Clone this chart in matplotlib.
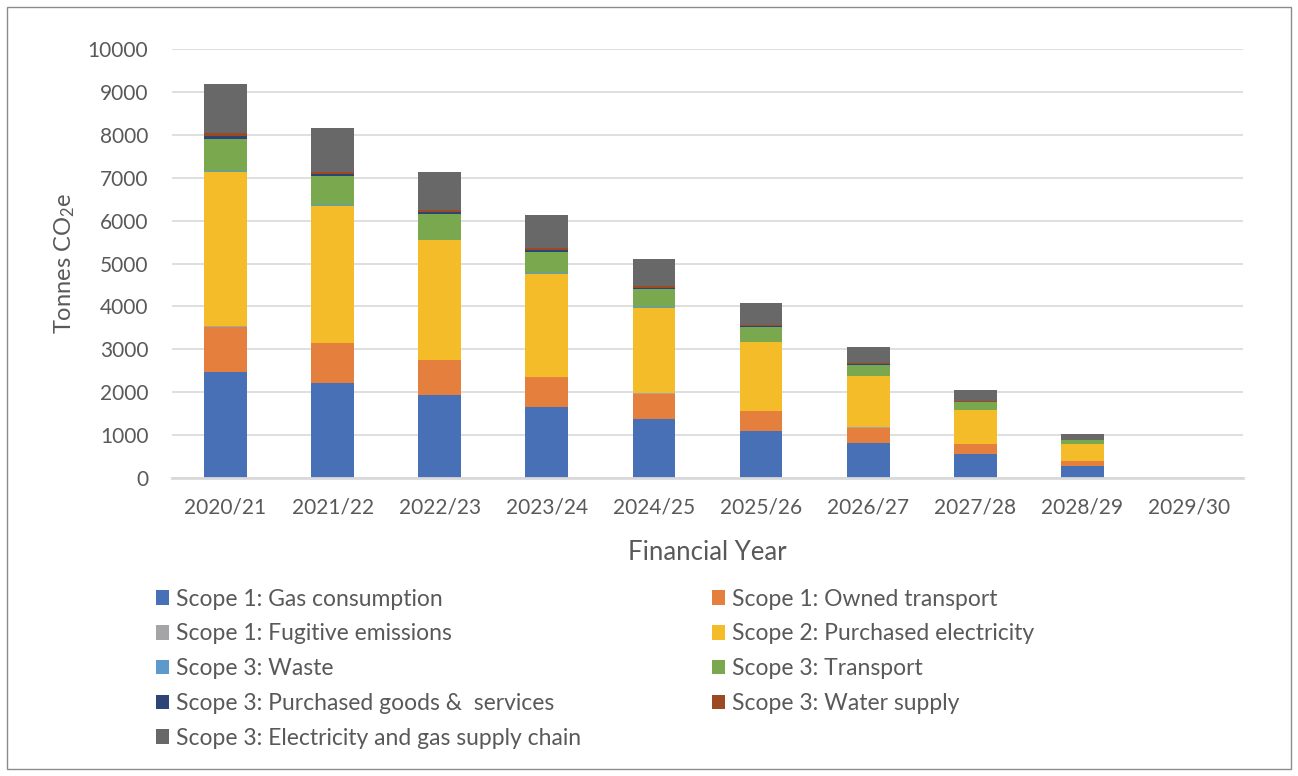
import matplotlib.pyplot as plt
from matplotlib.patches import Rectangle

plt.rcParams["font.family"] = ["Lato", "DejaVu Sans"]
plt.rcParams["mathtext.default"] = "regular"

years = ["2020/21", "2021/22", "2022/23", "2023/24", "2024/25",
         "2025/26", "2026/27", "2027/28", "2028/29", "2029/30"]

gas = [2480, 2205, 1930, 1655, 1380, 1100, 825, 550, 275, 0]
owned_transport = [1050, 935, 815, 700, 585, 465, 350, 235, 115, 0]
fugitive = [10, 9, 8, 7, 6, 4, 3, 2, 1, 0]
electricity = [3590, 3190, 2790, 2395, 1995, 1595, 1195, 800, 400, 0]
waste = [20, 18, 16, 13, 11, 9, 7, 4, 2, 0]
transport = [760, 675, 590, 505, 420, 340, 255, 170, 85, 0]
goods = [55, 49, 43, 37, 30, 24, 18, 12, 6, 0]
water = [70, 62, 54, 47, 39, 31, 23, 16, 8, 0]
supply_chain = [1150, 1020, 895, 765, 640, 510, 385, 255, 130, 0]

series = [
    ("Scope 1: Gas consumption", gas, "#4870B6"),
    ("Scope 1: Owned transport", owned_transport, "#E57F3E"),
    ("Scope 1: Fugitive emissions", fugitive, "#A5A5A8"),
    ("Scope 2: Purchased electricity", electricity, "#F5BC2A"),
    ("Scope 3: Waste", waste, "#5E99CC"),
    ("Scope 3: Transport", transport, "#79A84E"),
    ("Scope 3: Purchased goods &  services", goods, "#2C4576"),
    ("Scope 3: Water supply", water, "#9C4A24"),
    ("Scope 3: Electricity and gas supply chain", supply_chain, "#686868"),
]

fig = plt.figure(figsize=(12.98, 7.76), dpi=100)
ax = fig.add_axes([172 / 1298, 1 - 478 / 776, 1071 / 1298, 429 / 776])

x = range(len(years))
bottom = [0] * len(years)
handles = {}
for label, vals, col in series:
    b = ax.bar(x, vals, width=0.4, bottom=bottom, color=col, label=label, zorder=3)
    handles[label] = b
    bottom = [bt + v for bt, v in zip(bottom, vals)]

ax.set_xlim(-0.5, 9.5)
ax.set_ylim(0, 10000)
ax.set_yticks(range(0, 10001, 1000))
ax.set_xticks(list(x))
ax.set_xticklabels(years)
ax.grid(axis="y", color="#D9D9D9", lw=1.2, zorder=0)
for s in ["left", "right", "top"]:
    ax.spines[s].set_visible(False)
ax.spines["bottom"].set_color("#D9D9D9")
ax.spines["bottom"].set_linewidth(2)
ax.spines["bottom"].set_zorder(4)
ax.tick_params(length=0, labelsize=15, colors="#595959")
ax.tick_params(axis="y", pad=17)
ax.tick_params(axis="x", pad=14)
ax.set_ylabel("Tonnes CO$_2$e", fontsize=17, color="#595959", labelpad=8)
ax.set_xlabel("Financial Year", fontsize=18.5, color="#595959", labelpad=16)

labels = [s[0] for s in series]
col1 = [labels[i] for i in (0, 2, 4, 6, 8)]
col2 = [labels[i] for i in (1, 3, 5, 7)]
leg_kw = dict(frameon=False, fontsize=16.5, handlelength=0.6, handleheight=0.6,
              handletextpad=0.3, labelspacing=0.6, labelcolor="#595959",
              loc="upper left")
l1 = fig.legend([handles[l] for l in col1], col1,
                bbox_to_anchor=(135 / 1298, 1 - 568 / 776), **leg_kw)
l2 = fig.legend([handles[l] for l in col2], col2,
                bbox_to_anchor=(691 / 1298, 1 - 568 / 776), **leg_kw)

fig.patches.append(Rectangle((7 / 1298, 7 / 776), 1284 / 1298, 762 / 776,
                             transform=fig.transFigure, fill=False,
                             edgecolor="#8C8C8C", lw=1))

fig.savefig("out.png", dpi=100)
